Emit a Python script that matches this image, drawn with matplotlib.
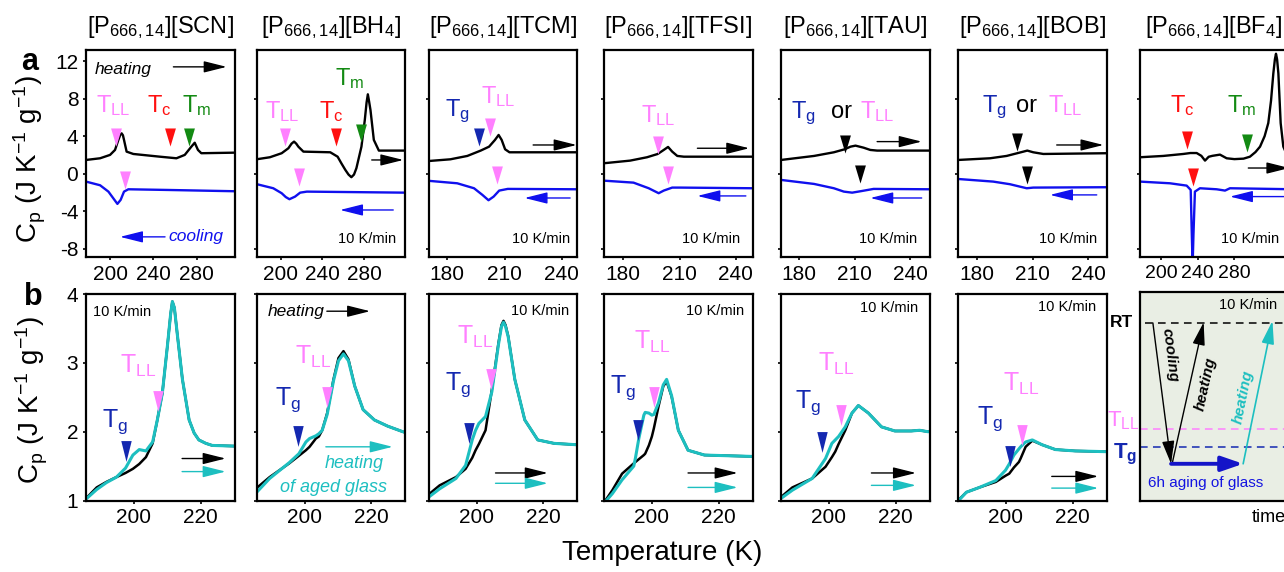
import matplotlib
matplotlib.use("Agg")
import matplotlib.pyplot as plt

plt.rcParams['font.family'] = ['Liberation Sans', 'DejaVu Sans']
plt.rcParams['mathtext.default'] = 'regular'
plt.rcParams['axes.unicode_minus'] = False

# ---------------- data: row a (full DSC scans, heating and cooling) ----------------
anions = ['SCN', 'BH$_4$', 'TCM', 'TFSI', 'TAU', 'BOB', 'BF$_4$']

scn_heat_T = [177.8, 190.8, 200, 204.6, 207.7, 209.5, 210.7, 211.9, 212.9, 215.3, 221.5, 246, 261.3,
              269, 275.1, 278.2, 281.2, 284.3, 315.4]
scn_heat_cp = [1.46, 1.64, 2.0, 2.53, 3.6, 4.15, 4.3, 4.1, 3.6, 2.35, 2.1, 1.81, 1.64,
               2.0, 2.88, 3.3, 2.53, 2.18, 2.24]
scn_cool_T = [177.8, 190.8, 198.5, 203, 206.8, 209.8, 212.9, 216.9, 252.1, 315.4]
scn_cool_cp = [-0.85, -1.24, -1.92, -2.63, -3.23, -2.8, -1.92, -1.67, -1.74, -1.88]

bh4_heat_T = [177.6, 189.9, 201.1, 207.5, 210.5, 212.9, 215, 217, 221.8, 247.4, 254.4, 258, 261.8,
              264.8, 267.5, 270, 272.3, 277.1, 280.3, 282, 283.2, 284.4, 285.7, 288.9, 293.7, 318.6]
bh4_heat_cp = [1.54, 1.75, 2.18, 2.71, 3.2, 3.42, 3.2, 2.88, 2.35, 2.28, 1.81, 1.1, 0.39,
               -0.1, -0.38, -0.1, 0.58, 2.88, 5.73, 7.6, 8.47, 7.7, 6.8, 3.6, 2.46, 2.46]
bh4_cool_T = [177.6, 193.1, 201.1, 205, 208.5, 213.9, 218.7, 225.1, 318.6]
bh4_cool_cp = [-1.13, -1.56, -2.09, -2.5, -2.73, -2.45, -2.03, -1.92, -2.03]

tcm_heat_T = [171, 181.6, 190.5, 197.5, 201.9, 205, 206.9, 208.5, 210.3, 212.6, 248]
tcm_heat_cp = [1.36, 1.53, 1.89, 2.46, 2.88, 3.6, 4.13, 3.6, 2.6, 2.28, 2.28]
tcm_cool_T = [171, 185.2, 194, 198.4, 201.6, 204.3, 207.2, 211.7, 248]
tcm_cool_cp = [-0.78, -1.03, -1.56, -2.27, -2.84, -2.45, -1.81, -1.63, -1.67]

tfsi_heat_T = [169.8, 183.7, 192.7, 198.4, 201.6, 203.9, 206.1, 208.8, 212.3, 249.1]
tfsi_heat_cp = [1.11, 1.39, 1.75, 2.1, 2.53, 2.85, 2.35, 1.89, 1.81, 1.81]
tfsi_cool_T = [169.8, 185.5, 193.6, 198.9, 201.6, 206.1, 210.5, 249.1]
tfsi_cool_cp = [-0.75, -0.96, -1.56, -2.09, -1.81, -1.49, -1.49, -1.56]

tau_heat_T = [170.2, 188.1, 198.8, 204.6, 207.8, 210.5, 214.9, 218.5, 222.2, 250.8]
tau_heat_cp = [1.46, 1.89, 2.28, 2.6, 2.88, 2.99, 2.77, 2.53, 2.46, 2.46]
tau_cool_T = [170.2, 188.1, 198.8, 204.2, 208.7, 213.2, 220.3, 250.8]
tau_cool_cp = [-0.67, -1.1, -1.56, -1.92, -2.03, -1.88, -1.63, -1.67]

bob_heat_T = [170, 187.2, 196.1, 201.8, 205.1, 207.2, 210.4, 215.8, 250]
bob_heat_cp = [1.46, 1.64, 1.89, 2.18, 2.35, 2.46, 2.28, 2.1, 2.18]
bob_cool_T = [170, 188.9, 197.9, 203.3, 206.9, 210.4, 250]
bob_cool_cp = [-0.57, -0.85, -1.13, -1.39, -1.56, -1.49, -1.45]

bf4_heat_T = [177.1, 202.5, 224.3, 232, 238.9, 244, 248, 252, 256, 264.3, 271.6, 280, 290, 297, 303,
              308, 313, 317, 320, 322.5, 324.2, 325.4, 326.6, 328, 330.5, 333.4, 336, 345]
bf4_heat_cp = [1.75, 1.89, 2.1, 2.2, 2.2, 1.9, 1.39, 1.8, 1.9, 2.03, 1.64, 1.55, 1.6, 1.81, 2.3,
               2.88, 4.0, 5.4, 7.8, 10.7, 12.2, 12.8, 12.2, 10.7, 5.4, 2.88, 2.3, 2.2]
bf4_cool_T = [177.1, 209.8, 228, 232.4, 233.6, 234.5, 235.4, 237, 242.5, 260.7, 266, 269.8, 275.2, 345]
bf4_cool_cp = [-0.85, -1.03, -1.28, -1.74, -6.5, -9.8, -6.5, -1.92, -1.56, -1.67, -1.75, -1.81, -1.56, -1.67]

# transition marks (T, Cp level) and their kind
scn_hmark_T, scn_hmark_cp, scn_hmark_kind = [205.5, 255.2, 272.6], [3.9, 3.9, 3.9], ['LL', 'c', 'm']
scn_cmark_T, scn_cmark_cp, scn_cmark_kind = [213.8], [-0.67], ['LL']
bh4_hmark_T, bh4_hmark_cp, bh4_hmark_kind = [204.3, 253.2, 277.1], [3.95, 3.95, 4.3], ['LL', 'c', 'm']
bh4_cmark_T, bh4_cmark_cp, bh4_cmark_kind = [218.0], [-0.32], ['LL']
tcm_hmark_T, tcm_hmark_cp, tcm_hmark_kind = [196.6, 202.3], [3.88, 4.95], ['g', 'LL']
tcm_cmark_T, tcm_cmark_cp, tcm_cmark_kind = [206.0], [-0.14], ['LL']
tfsi_hmark_T, tfsi_hmark_cp, tfsi_hmark_kind = [198.4], [3.06], ['LL']
tfsi_cmark_T, tfsi_cmark_cp, tfsi_cmark_kind = [203.7], [-0.14], ['LL']
tau_hmark_T, tau_hmark_cp, tau_hmark_kind = [204.6], [3.17], ['x']
tau_cmark_T, tau_cmark_cp, tau_cmark_kind = [212.8], [-0.07], ['x']
bob_hmark_T, bob_hmark_cp, bob_hmark_kind = [201.5], [3.4], ['x']
bob_cmark_T, bob_cmark_cp, bob_cmark_kind = [206.9], [-0.14], ['x']
bf4_hmark_T, bf4_hmark_cp, bf4_hmark_kind = [228.0, 293.5], [3.6, 3.24], ['c', 'm']
bf4_cmark_T, bf4_cmark_cp, bf4_cmark_kind = [234.5], [-0.32], ['c']

# ---------------- data: row b (zoom on the glass/LL region, normal vs aged glass) ----------------
scn_b_T = [185.7, 188.9, 191.8, 194.8, 197.5, 199.7, 201.6, 203.6, 205.6, 207, 208.5, 210, 211, 211.5,
           212.1, 213, 214.5, 216.5, 218, 219.4, 221.5, 223.4, 230.2]
scn_b_black = [1.03, 1.19, 1.27, 1.34, 1.40, 1.46, 1.53, 1.63, 1.83, 2.17, 2.56, 3.24, 3.72, 3.89,
               3.8, 3.4, 2.76, 2.17, 1.98, 1.88, 1.83, 1.8, 1.79]
scn_b_aged = [1.02, 1.16, 1.26, 1.34, 1.47, 1.66, 1.74, 1.72, 1.85, 2.17, 2.56, 3.24, 3.72, 3.89,
              3.8, 3.4, 2.76, 2.17, 1.98, 1.88, 1.83, 1.8, 1.79]

bh4_b_T = [185.8, 189.5, 195.4, 198.3, 200.4, 201.5, 203.4, 204.3, 205.3, 206.8, 208.7, 210.2, 211.7,
           213.2, 215.1, 217.6, 221, 225, 229.5, 230.2]
bh4_b_black = [1.19, 1.34, 1.54, 1.65, 1.73, 1.78, 1.9, 1.93, 2.02, 2.27, 2.76, 3.07, 3.17,
               3.05, 2.66, 2.32, 2.17, 2.08, 2.0, 1.99]
bh4_b_aged = [1.13, 1.32, 1.55, 1.68, 1.85, 1.9, 1.94, 1.97, 2.02, 2.25, 2.74, 3.03, 3.13,
              3.03, 2.66, 2.32, 2.17, 2.08, 2.0, 1.99]

tcm_b_T = [185.9, 188.9, 193.8, 196.7, 198.7, 199.7, 200.7, 202.7, 204.6, 206.6, 207.5, 208.1, 208.7,
           209.5, 211.5, 214.5, 218.4, 223.3, 230.1]
tcm_b_black = [1.1, 1.22, 1.34, 1.46, 1.62, 1.73, 1.82, 2.02, 2.61, 3.29, 3.55, 3.61, 3.55,
               3.39, 2.76, 2.17, 1.88, 1.83, 1.81]
tcm_b_aged = [1.06, 1.17, 1.32, 1.51, 1.88, 2.02, 2.12, 2.22, 2.58, 3.27, 3.53, 3.59, 3.53,
              3.38, 2.76, 2.17, 1.88, 1.83, 1.81]

tfsi_b_T = [185.7, 188.2, 191.1, 194.6, 195.1, 196.1, 197.6, 198, 199.1, 200, 200.6, 202, 203.4,
            204.4, 205.9, 207.9, 210.8, 215.7, 230.1]
tfsi_b_black = [0.97, 1.15, 1.39, 1.54, 1.56, 1.6, 1.66, 1.68, 1.8, 1.93, 2.05, 2.37, 2.66,
                2.73, 2.51, 2.02, 1.73, 1.66, 1.64]
tfsi_b_aged = [0.96, 1.1, 1.3, 1.5, 1.62, 1.9, 2.24, 2.28, 2.27, 2.24, 2.25, 2.42, 2.68,
               2.76, 2.52, 2.02, 1.73, 1.66, 1.64]

tau_b_T = [185.7, 189.1, 195, 199, 200.9, 201.9, 202.9, 204.9, 206.9, 208.8, 211.8, 215.7, 219.7,
           224.6, 227.1, 229.5, 230.2]
tau_b_black = [1.05, 1.19, 1.32, 1.49, 1.63, 1.71, 1.82, 2.02, 2.27, 2.38, 2.27, 2.07, 2.01,
               2.01, 2.02, 2.0, 2.0]
tau_b_aged = [1.03, 1.15, 1.32, 1.61, 1.83, 1.88, 1.93, 2.07, 2.27, 2.38, 2.27, 2.07, 2.01,
              2.01, 2.02, 2.0, 2.0]

bob_b_T = [185.7, 188.2, 192.1, 197, 199.9, 201, 202.4, 203.9, 204.4, 205.9, 207.9, 210.8, 214.8,
           220.7, 229.5, 230.2]
bob_b_black = [1.0, 1.12, 1.19, 1.27, 1.36, 1.39, 1.48, 1.56, 1.61, 1.78, 1.87, 1.81, 1.74,
               1.72, 1.71, 1.71]
bob_b_aged = [0.99, 1.12, 1.19, 1.29, 1.44, 1.53, 1.66, 1.75, 1.78, 1.85, 1.88, 1.81, 1.74,
              1.72, 1.71, 1.71]

b_tg_T = [197.5, 197.9, 197.7, 195.8, 197.8, 201.3]
b_tg_cp = [1.72, 1.93, 1.98, 2.02, 1.85, 1.65]
b_tll_T = [207.1, 206.8, 204.2, 200.7, 203.7, 204.9]
b_tll_cp = [2.44, 2.51, 2.76, 2.51, 2.24, 1.95]

# schematic of the thermal protocol (time, temperature in relative units)
level_RT, level_TLL, level_Tg = 0.852, 0.346, 0.258
cool_t, cool_T = [0.087, 0.210], [0.852, 0.178]
heat_t, heat_T = [0.217, 0.430], [0.178, 0.855]
age_t, age_T = [0.210, 0.697], [0.178, 0.178]
aged_t, aged_T = [0.697, 0.895], [0.178, 0.862]

# ---------------- styling ----------------
HEAT = 'black'
COOL = '#1010EE'
AGED = '#1DBFC0'
PINK = '#FF80FF'
RED = '#FF1010'
GREEN = '#138A13'
NAVY = '#1428B0'
kind_color = {'LL': PINK, 'c': RED, 'm': GREEN, 'g': NAVY, 'x': 'black'}

tri_a = [(-0.6, 1), (0.6, 1), (0, -1)]
tri_b = [(-0.5, 1), (0.5, 1), (0, -1)]

W, H = 1284, 572
fig = plt.figure(figsize=(W / 100, H / 100), dpi=100)
col_left = [86, 257, 429, 604, 781, 958, 1140]
col_width = [149, 148, 148, 149, 149, 149, 148]


def px_axes(left, top, width, height):
    return fig.add_axes([left / W, 1 - (top + height) / H, width / W, height / H])


def style(ax):
    for s in ax.spines.values():
        s.set_linewidth(1.6)
    ax.tick_params(direction='out', length=2.5, width=1.2, labelsize=15, pad=3)


def arrow(ax, start, end, color, lw=1.0, hl=1.4, hw=0.35, ms=10):
    ax.annotate('', xy=end, xytext=start, annotation_clip=False,
                arrowprops=dict(arrowstyle=f'-|>,head_length={hl},head_width={hw}',
                                color=color, lw=lw, shrinkA=0, shrinkB=0, mutation_scale=ms))


def tlabel(ax, x, y, kind, size=17):
    txt = {'LL': '$T_{LL}$', 'c': '$T_c$', 'm': '$T_m$', 'g': '$T_g$'}[kind]
    ax.text(x, y, txt, color=kind_color[kind], fontsize=size, ha='center', va='baseline')


def rate(ax, x, y):
    ax.text(x, y, '10 K/min', fontsize=10.5, ha='center', va='center')


# ---------------- row a ----------------
top_panels = [
    (scn_heat_T, scn_heat_cp, scn_cool_T, scn_cool_cp, (177.8, 315.4), [200, 240, 280],
     scn_hmark_T, scn_hmark_cp, scn_hmark_kind, scn_cmark_T, scn_cmark_cp, scn_cmark_kind),
    (bh4_heat_T, bh4_heat_cp, bh4_cool_T, bh4_cool_cp, (177.6, 318.6), [200, 240, 280],
     bh4_hmark_T, bh4_hmark_cp, bh4_hmark_kind, bh4_cmark_T, bh4_cmark_cp, bh4_cmark_kind),
    (tcm_heat_T, tcm_heat_cp, tcm_cool_T, tcm_cool_cp, (170.4, 248), [180, 210, 240],
     tcm_hmark_T, tcm_hmark_cp, tcm_hmark_kind, tcm_cmark_T, tcm_cmark_cp, tcm_cmark_kind),
    (tfsi_heat_T, tfsi_heat_cp, tfsi_cool_T, tfsi_cool_cp, (169.8, 249.1), [180, 210, 240],
     tfsi_hmark_T, tfsi_hmark_cp, tfsi_hmark_kind, tfsi_cmark_T, tfsi_cmark_cp, tfsi_cmark_kind),
    (tau_heat_T, tau_heat_cp, tau_cool_T, tau_cool_cp, (170.2, 250.8), [180, 210, 240],
     tau_hmark_T, tau_hmark_cp, tau_hmark_kind, tau_cmark_T, tau_cmark_cp, tau_cmark_kind),
    (bob_heat_T, bob_heat_cp, bob_cool_T, bob_cool_cp, (170, 250), [180, 210, 240],
     bob_hmark_T, bob_hmark_cp, bob_hmark_kind, bob_cmark_T, bob_cmark_cp, bob_cmark_kind),
    (bf4_heat_T, bf4_heat_cp, bf4_cool_T, bf4_cool_cp, (177.1, 338.5), [200, 240, 280],
     bf4_hmark_T, bf4_hmark_cp, bf4_hmark_kind, bf4_cmark_T, bf4_cmark_cp, bf4_cmark_kind),
]

axa = []
for i, p in enumerate(top_panels):
    hT, hc, cT, cc, xl, xt, mT, mc, mk, kT, kc, kk = p
    ax = px_axes(col_left[i], 50, col_width[i], 207)
    style(ax)
    ax.plot(cT, cc, color=COOL, lw=1.7, solid_joinstyle='round')
    ax.plot(hT, hc, color=HEAT, lw=1.7, solid_joinstyle='round')
    for T, c, k in zip(mT + kT, mc + kc, mk + kk):
        ax.plot(T, c, marker=tri_a, ms=13, color=kind_color[k], mec='none', ls='none')
    ax.set_xlim(*xl)
    ax.set_ylim(-8.9, 13.2)
    ax.set_xticks(xt)
    if i == 0:
        ax.set_yticks([-8, -4, 0, 4, 8, 12])
    else:
        ax.set_yticks([-8, 0, 8])
        ax.set_yticklabels([])
    ax.text(0.5, 1.08, '[P$_{666,14}$][' + anions[i] + ']', transform=ax.transAxes,
            fontsize=17, ha='center', va='baseline')
    axa.append(ax)
# the narrow BF4 temperature scale needs slightly smaller tick digits
axa[6].tick_params(axis='x', labelsize=14)

# panel annotations, row a
ax = axa[0]
ax.text(212.3, 11.1, 'heating', style='italic', fontsize=12.5, ha='center', va='center')
arrow(ax, (258.5, 11.4), (307.7, 11.4), HEAT)
tlabel(ax, 203.1, 6.6, 'LL')
tlabel(ax, 245.4, 6.6, 'c')
tlabel(ax, 280.0, 6.6, 'm')
ax.text(279.2, -6.75, 'cooling', style='italic', color=COOL, fontsize=12.5, ha='center', va='center')
arrow(ax, (250.8, -6.75), (209.2, -6.75), COOL)

ax = axa[1]
tlabel(ax, 201.9, 5.9, 'LL')
tlabel(ax, 247.9, 5.9, 'c')
tlabel(ax, 265.4, 9.5, 'm')
arrow(ax, (286.9, 1.46), (317.0, 1.46), HEAT)
arrow(ax, (307.4, -3.88), (256.7, -3.88), COOL)
rate(ax, 282.7, -7.0)

ax = axa[2]
tlabel(ax, 185.1, 6.1, 'g')
tlabel(ax, 206.8, 7.5, 'LL')
arrow(ax, (225.0, 3.06), (247.8, 3.06), HEAT)
arrow(ax, (244.4, -2.6), (220.5, -2.6), COOL)
rate(ax, 228.9, -7.0)

ax = axa[3]
tlabel(ax, 198.5, 5.55, 'LL')
arrow(ax, (219.5, 2.71), (247.1, 2.71), HEAT)
arrow(ax, (245.3, -2.38), (219.5, -2.38), COOL)
rate(ax, 226.6, -7.0)

for ax, (tg_x, or_x, ll_x, base) in zip([axa[4], axa[5]],
                                         [(182.3, 202.7, 222.0, 5.9), (189.8, 206.9, 227.5, 6.6)]):
    tlabel(ax, tg_x, base, 'g')
    ax.text(or_x, base, 'or', fontsize=17, ha='center', va='baseline')
    tlabel(ax, ll_x, base, 'LL')
arrow(axa[4], (222.2, 3.42), (246.3, 3.42), HEAT)
arrow(axa[4], (246.3, -2.6), (218.5, -2.6), COOL)
rate(axa[4], 227.9, -7.0)
arrow(axa[5], (223.0, 3.06), (248.1, 3.06), HEAT)
arrow(axa[5], (244.5, -2.27), (219.4, -2.27), COOL)
rate(axa[5], 229.2, -7.0)

ax = axa[6]
tlabel(ax, 223.4, 6.6, 'c')
tlabel(ax, 288.0, 6.6, 'm')
arrow(ax, (295.2, 0.6), (340.0, 0.6), HEAT)
arrow(ax, (345.0, -2.45), (275.2, -2.45), COOL)
rate(ax, 297.0, -7.0)

# ---------------- row b ----------------
bottom_panels = [
    (scn_b_T, scn_b_black, scn_b_aged),
    (bh4_b_T, bh4_b_black, bh4_b_aged),
    (tcm_b_T, tcm_b_black, tcm_b_aged),
    (tfsi_b_T, tfsi_b_black, tfsi_b_aged),
    (tau_b_T, tau_b_black, tau_b_aged),
    (bob_b_T, bob_b_black, bob_b_aged),
]

axb = []
for i, (T, blk, aged) in enumerate(bottom_panels):
    ax = px_axes(col_left[i], 294, col_width[i], 206.5)
    style(ax)
    ax.plot(T, blk, color=HEAT, lw=1.8, solid_joinstyle='round')
    ax.plot(T, aged, color=AGED, lw=2.2, solid_joinstyle='round')
    ax.plot(b_tg_T[i], b_tg_cp[i], marker=tri_b, ms=15, color=NAVY, mec='none', ls='none')
    ax.plot(b_tll_T[i], b_tll_cp[i], marker=tri_b, ms=15, color=PINK, mec='none', ls='none')
    ax.set_xlim(185.7, 230.2)
    ax.set_ylim(1, 4)
    ax.set_xticks([200, 220])
    ax.set_yticks([1, 2, 3, 4])
    if i > 0:
        ax.set_yticklabels([])
    axb.append(ax)

# labels Tg / TLL (x, baseline) per panel, row b
tg_lab = [(194.5, 2.07), (195.0, 2.39), (194.3, 2.61), (191.4, 2.56), (193.8, 2.34), (195.3, 2.12)]
tll_lab = [(201.4, 2.85), (202.6, 2.98), (199.7, 3.27), (200.0, 3.2), (202.2, 2.88), (204.7, 2.59)]
arr_b = [(214.4, 227.4, 1.61, 1.42), (0, 0, 0, 0), (205.7, 221.4, 1.40, 1.25),
         (210.8, 225.6, 1.40, 1.19), (212.7, 226.0, 1.40, 1.22), (213.7, 227.6, 1.35, 1.18)]
rate_b = [(196.5, 3.74), None, (219.1, 3.75), (218.9, 3.75), (218.0, 3.8), (218.3, 3.81)]
for i, ax in enumerate(axb):
    tlabel(ax, *tg_lab[i], 'g', size=18)
    tlabel(ax, *tll_lab[i], 'LL', size=18)
    if i != 1:
        x0, x1, yb, yc = arr_b[i]
        arrow(ax, (x0, yb), (x1, yb), HEAT)
        arrow(ax, (x0, yc), (x1, yc), AGED)
        rate(ax, *rate_b[i])

ax = axb[1]
ax.text(197.4, 3.75, 'heating', style='italic', fontsize=12.5, ha='center', va='center')
arrow(ax, (206.7, 3.75), (219.7, 3.75), HEAT)
arrow(ax, (206.4, 1.78), (226.5, 1.78), AGED)
ax.text(214.9, 1.54, 'heating', style='italic', color=AGED, fontsize=13, ha='center', va='center')
ax.text(208.7, 1.19, 'of aged glass', style='italic', color=AGED, fontsize=13, ha='center', va='center')

# ---------------- schematic ----------------
axs = px_axes(1140, 292, 148, 209)
axs.set_facecolor('#E9EEE4')
for s in axs.spines.values():
    s.set_linewidth(1.6)
axs.set_xticks([])
axs.set_yticks([])
axs.set_xlim(0, 1)
axs.set_ylim(0, 1)
axs.plot([0.034, 1], [level_RT, level_RT], color='black', lw=1.1, ls=(0, (5, 3.5)))
axs.plot([0, 1], [level_TLL, level_TLL], color=PINK, lw=1.1, ls=(0, (5, 3.5)))
axs.plot([0, 1], [level_Tg, level_Tg], color=NAVY, lw=1.1, ls=(0, (5, 3.5)))
arrow(axs, (cool_t[0], cool_T[0]), (cool_t[1], cool_T[1]), 'black', lw=1.0, hl=1.4, hw=0.38)
arrow(axs, (heat_t[0], heat_T[0]), (heat_t[1], heat_T[1]), 'black', lw=1.0, hl=1.4, hw=0.38)
arrow(axs, (age_t[0], age_T[0]), (age_t[1], age_T[1]), '#1414C8', lw=2.8, hl=1.3, hw=0.45)
arrow(axs, (aged_t[0], aged_T[0]), (aged_t[1], aged_T[1]), AGED, lw=1.2, hl=1.4, hw=0.38)
axs.text(0.201, 0.70, 'cooling', style='italic', fontweight='bold', fontsize=11, rotation=-82.7,
         rotation_mode='anchor', ha='center', va='center')
axs.text(0.445, 0.562, 'heating', style='italic', fontweight='bold', fontsize=11, rotation=77.6,
         rotation_mode='anchor', ha='center', va='center')
axs.text(0.70, 0.498, 'heating', style='italic', color=AGED, fontweight='bold', fontsize=11,
         rotation=78.6, rotation_mode='anchor', ha='center', va='center')
axs.text(0.445, 0.086, '6h aging of glass', color='#1414E0', fontsize=11, ha='center', va='center')
axs.text(0.73, 0.936, '10 K/min', fontsize=10.5, ha='center', va='center')
axs.text(-0.045, level_RT, 'RT', fontweight='bold', fontsize=12.5, ha='right', va='center')
axs.text(0.0, level_TLL + 0.01, '$T_{LL}$', color=PINK, fontsize=16, ha='right', va='baseline')
axs.text(-0.02, 0.205, '$T_g$', color=NAVY, fontweight='bold', fontsize=16, ha='right', va='baseline')
axs.text(0.87, -0.078, 'time', fontsize=13, ha='center', va='center')

# ---------------- figure labels ----------------
fig.text(30 / W, 1 - 159 / H, 'C$_p$ (J K$^{-1}$ g$^{-1}$)', rotation=90, fontsize=20,
         ha='center', va='center')
fig.text(32 / W, 1 - 400 / H, 'C$_p$ (J K$^{-1}$ g$^{-1}$)', rotation=90, fontsize=20,
         ha='center', va='center')
fig.text(30 / W, 1 - 62 / H, 'a', fontweight='bold', fontsize=22, ha='center', va='center')
fig.text(33 / W, 1 - 297 / H, 'b', fontweight='bold', fontsize=22, ha='center', va='center')
fig.text(662 / W, 1 - 553 / H, 'Temperature (K)', fontsize=20, ha='center', va='center')

fig.savefig('out.png', dpi=100)
